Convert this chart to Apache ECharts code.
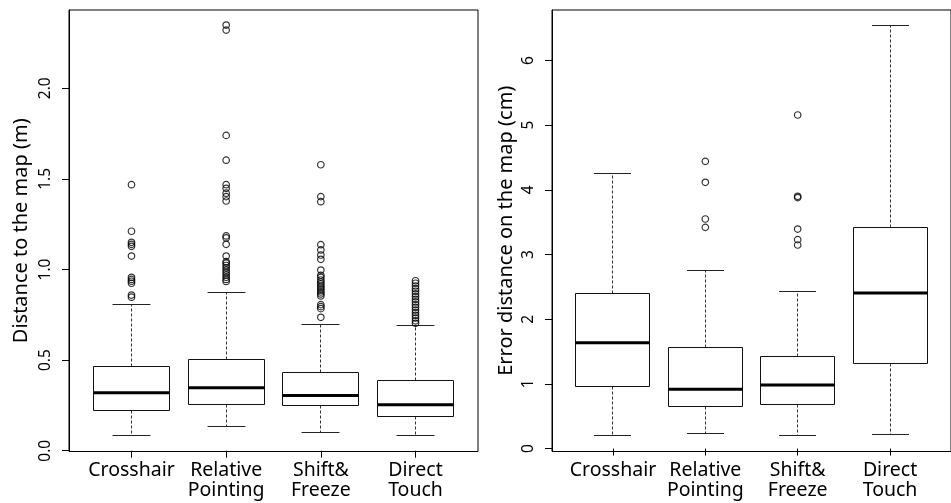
<!DOCTYPE html>
<html><head><meta charset="utf-8">
<script src="https://cdn.jsdelivr.net/npm/echarts@6/dist/echarts.min.js"></script>
<style>html,body{margin:0;padding:0;background:#fff}#c{width:951px;height:503px}</style>
</head><body><div id="c"></div>
<script>
// ---------- data ----------
const categories = ['Crosshair', 'Relative\nPointing', 'Shift&\nFreeze', 'Direct\nTouch'];
const positions = [1, 2, 3, 4];

// [lower whisker, Q1, median, Q3, upper whisker]
const distStats = [
  [0.085, 0.223, 0.320, 0.466, 0.808],
  [0.131, 0.256, 0.348, 0.502, 0.872],
  [0.098, 0.247, 0.304, 0.431, 0.697],
  [0.083, 0.188, 0.254, 0.390, 0.690]
];
const distOutCrosshair = [1.468, 1.211, 1.150, 1.139, 1.128, 1.074, 0.957, 0.945, 0.935, 0.924, 0.859, 0.847];
const distOutRelative = [2.349, 2.321, 1.740, 1.603, 1.468, 1.448, 1.421, 1.402, 1.378, 1.185, 1.174, 1.139, 1.074,
  1.043, 1.035, 1.022, 1.009, 0.996, 0.983, 0.970, 0.957, 0.945, 0.934];
const distOutShift = [1.578, 1.402, 1.374, 1.137, 1.108, 1.080, 1.056, 0.997, 0.968, 0.957, 0.942, 0.931, 0.920,
  0.908, 0.898, 0.887, 0.876, 0.865, 0.854, 0.806, 0.795, 0.784, 0.736];
const distOutDirect = [0.938, 0.924, 0.909, 0.894, 0.880, 0.865, 0.850, 0.835, 0.821, 0.806, 0.791, 0.776, 0.762,
  0.747, 0.732, 0.717, 0.703];

const errStats = [
  [0.195, 0.958, 1.638, 2.395, 4.250],
  [0.236, 0.654, 0.917, 1.555, 2.756],
  [0.206, 0.685, 0.983, 1.416, 2.436],
  [0.221, 1.308, 2.405, 3.420, 6.538]
];
const errOutCrosshair = [];
const errOutRelative = [4.44, 4.116, 3.549, 3.42];
const errOutShift = [5.157, 3.90, 3.88, 3.394, 3.23, 3.147];
const errOutDirect = [];

const distTicks = [0, 0.5, 1, 1.5, 2];
const errTicks = [0, 1, 2, 3, 4, 5, 6];

// ---------- helpers ----------
function boxData(stats) {
  return stats.map((s, i) => [positions[i]].concat(s));
}
function outlierData(lists) {
  const out = [];
  lists.forEach((l, i) => l.forEach(v => out.push([positions[i], v])));
  return out;
}
function crisp(v) { return Math.round(v - 0.5) + 0.5; }

function boxRender(params, api) {
  const x = api.value(0);
  const lo = api.value(1), q1 = api.value(2), med = api.value(3), q3 = api.value(4), hi = api.value(5);
  const halfBox = api.size([0.8, 0])[0] / 2;
  const halfStaple = api.size([0.4, 0])[0] / 2;
  const cx = crisp(api.coord([x, lo])[0]);
  const yLo = crisp(api.coord([x, lo])[1]);
  const yQ1 = crisp(api.coord([x, q1])[1]);
  const yMed = api.coord([x, med])[1];
  const yQ3 = crisp(api.coord([x, q3])[1]);
  const yHi = crisp(api.coord([x, hi])[1]);
  const dash = { stroke: '#333', lineWidth: 1, lineDash: [3, 2] };
  const solid = { stroke: '#222', lineWidth: 1 };
  const bx0 = crisp(cx - halfBox), bx1 = crisp(cx + halfBox);
  return {
    type: 'group',
    children: [
      { type: 'line', shape: { x1: cx, y1: yQ1, x2: cx, y2: yLo }, style: dash },
      { type: 'line', shape: { x1: cx, y1: yQ3, x2: cx, y2: yHi }, style: dash },
      { type: 'line', shape: { x1: cx - halfStaple, y1: yLo, x2: cx + halfStaple, y2: yLo }, style: solid },
      { type: 'line', shape: { x1: cx - halfStaple, y1: yHi, x2: cx + halfStaple, y2: yHi }, style: solid },
      { type: 'rect', shape: { x: bx0, y: yQ3, width: bx1 - bx0, height: yQ1 - yQ3 },
        style: { fill: '#fff', stroke: '#111', lineWidth: 1 } },
      { type: 'line', shape: { x1: bx0, y1: yMed, x2: bx1, y2: yMed }, style: { stroke: '#000', lineWidth: 3 } }
    ]
  };
}

const FONT = 'Noto Sans';
function xAxisCfg(gridIndex) {
  return {
    type: 'value', gridIndex, min: 0.34, max: 4.66,
    splitLine: { show: false },
    axisLine: { show: false },
    axisTick: { show: true, length: 7, lineStyle: { color: '#000' }, customValues: positions },
    axisLabel: {
      show: true, customValues: positions, margin: 9,
      formatter: v => categories[Math.round(v) - 1] || '',
      color: '#000', fontFamily: FONT, fontSize: 19.5, lineHeight: 20
    }
  };
}
function yAxisCfg(gridIndex, min, max, ticks, name, fmt, gap) {
  return {
    type: 'value', gridIndex, min, max,
    name, nameLocation: 'middle', nameGap: gap,
    nameTextStyle: { color: '#000', fontFamily: FONT, fontSize: 20 },
    splitLine: { show: false },
    axisLine: { show: true, lineStyle: { color: '#000' } },
    axisTick: { show: true, length: 7, lineStyle: { color: '#000' }, customValues: ticks },
    axisLabel: {
      show: true, customValues: ticks, rotate: 90, margin: 15,
      formatter: fmt, color: '#000', fontFamily: FONT, fontSize: 15.5
    }
  };
}

const chart = echarts.init(document.getElementById('c'), null, { renderer: 'canvas' });
chart.setOption({
  backgroundColor: '#fff',
  animation: false,
  grid: [
    { left: 69, top: 10, width: 409, height: 441.5, show: true, borderColor: '#000', borderWidth: 1, backgroundColor: 'transparent' },
    { left: 552, top: 10, width: 409, height: 441.5, show: true, borderColor: '#000', borderWidth: 1, backgroundColor: 'transparent' }
  ],
  xAxis: [xAxisCfg(0), xAxisCfg(1)],
  yAxis: [
    yAxisCfg(0, -0.0044, 2.432, distTicks, 'Distance to the map (m)', v => v.toFixed(1), 38),
    yAxisCfg(1, -0.045, 6.78, errTicks, 'Error distance on the map (cm)', v => String(v), 36)
  ],
  series: [
    { type: 'custom', xAxisIndex: 0, yAxisIndex: 0, renderItem: boxRender, data: boxData(distStats), encode: { x: 0, y: [1, 2, 3, 4, 5] }, silent: true },
    { type: 'scatter', xAxisIndex: 0, yAxisIndex: 0, symbol: 'circle', symbolSize: 6.5,
      itemStyle: { color: 'rgba(0,0,0,0)', borderColor: '#000', borderWidth: 1.2 },
      data: outlierData([distOutCrosshair, distOutRelative, distOutShift, distOutDirect]), silent: true },
    { type: 'custom', xAxisIndex: 1, yAxisIndex: 1, renderItem: boxRender, data: boxData(errStats), encode: { x: 0, y: [1, 2, 3, 4, 5] }, silent: true },
    { type: 'scatter', xAxisIndex: 1, yAxisIndex: 1, symbol: 'circle', symbolSize: 6.5,
      itemStyle: { color: 'rgba(0,0,0,0)', borderColor: '#000', borderWidth: 1.2 },
      data: outlierData([errOutCrosshair, errOutRelative, errOutShift, errOutDirect]), silent: true }
  ]
});
</script>
</body></html>
